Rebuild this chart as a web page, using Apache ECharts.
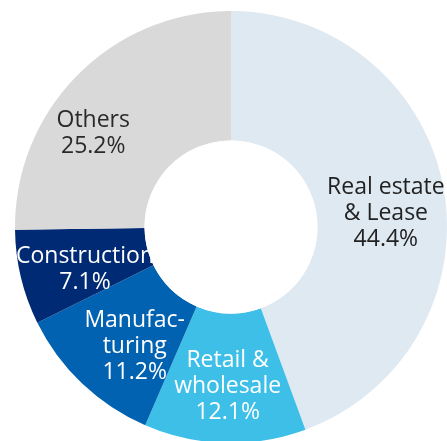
<!DOCTYPE html>
<html>
<head>
<meta charset="utf-8">
<script src="https://cdn.jsdelivr.net/npm/echarts@6/dist/echarts.min.js"></script>
<style>
  html, body { margin: 0; padding: 0; background: #ffffff; }
  #chart { width: 447px; height: 441px; }
</style>
</head>
<body>
<div id="chart"></div>
<script>
// Loan share by industry (%)
const categories = ['Real estate\n& Lease', 'Retail &\nwholesale', 'Manufac-\nturing', 'Construction', 'Others'];
const shares = [44.4, 12.1, 11.2, 7.1, 25.2];

const sliceColors = ['#dee9f2', '#3dbfe8', '#0062b0', '#002a74', '#d9d9d9'];
const labelColors = ['#222222', '#ffffff', '#ffffff', '#ffffff', '#2a2a2a'];
const labelOffsets = [[3, 13], [1, 5], [10, 8], [4, 6], [-28, 15]];

const chart = echarts.init(document.getElementById('chart'));

const center = [231, 227];
const innerR = 86.5;
const outerR = 216;

chart.setOption({
  animation: false,
  series: [
    {
      type: 'pie',
      center: center,
      radius: [innerR, outerR],
      startAngle: 90,
      clockwise: true,
      silent: true,
      avoidLabelOverlap: false,
      labelLayout: { hideOverlap: false },
      label: {
        show: true,
        position: 'inside',
        fontFamily: '"Open Sans", "Noto Sans", sans-serif',
        fontSize: 23,
        lineHeight: 26,
        align: 'center',
        formatter: p => p.name + '\n' + p.value.toFixed(1) + '%'
      },
      labelLine: { show: false },
      itemStyle: { borderWidth: 0 },
      data: categories.map((name, i) => ({
        name: name,
        value: shares[i],
        itemStyle: { color: sliceColors[i] },
        label: { color: labelColors[i], offset: labelOffsets[i] }
      }))
    },
    {
      // white hole on its own layer, covering any label overflow
      type: 'pie',
      center: center,
      radius: [0, innerR],
      zlevel: 1,
      silent: true,
      label: { show: false },
      labelLine: { show: false },
      itemStyle: { color: '#ffffff' },
      data: [{ value: 1, name: '' }]
    }
  ]
});
</script>
</body>
</html>
